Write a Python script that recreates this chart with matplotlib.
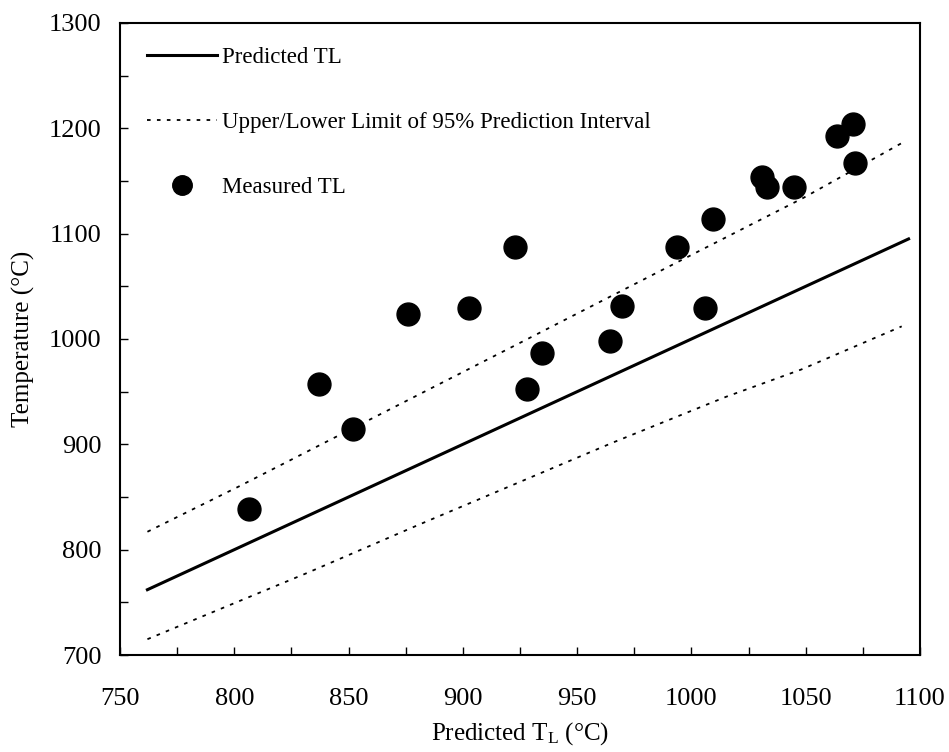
import matplotlib
matplotlib.use("Agg")
import matplotlib.pyplot as plt
import numpy as np

plt.rcParams['font.family'] = ['Liberation Serif', 'DejaVu Serif']
plt.rcParams['mathtext.fontset'] = 'custom'
plt.rcParams['mathtext.rm'] = 'Liberation Serif'
plt.rcParams['mathtext.it'] = 'Liberation Serif:italic'

# predicted TL line (y = x)
pred_x = [762, 1095]
pred_y = [762, 1095]

# 95% prediction interval limits
upper_x = [762, 802, 922, 1002, 1049, 1092]
upper_y = [817, 860, 993, 1082, 1134, 1186]
lower_x = [762, 832, 880, 966, 1015, 1048, 1092]
lower_y = [715, 778, 823, 902, 945, 971, 1012]

# measured TL vs predicted
meas_x = [806.6, 837.2, 851.8, 876.0, 902.8, 922.8, 927.9, 934.5, 964.4, 969.5,
          993.6, 1005.9, 1009.6, 1030.7, 1033.2, 1044.9, 1063.6, 1070.8, 1071.6]
meas_y = [838.3, 957.0, 914.3, 1023.5, 1029.7, 1087.1, 952.3, 987.0, 998.4, 1031.3,
          1087.6, 1029.7, 1113.9, 1154.0, 1144.6, 1144.0, 1193.0, 1204.1, 1166.8]

fig = plt.figure(figsize=(9.49, 7.52), dpi=100)
ax = fig.add_axes([120/949, 97/752, 800/949, 632/752])

ax.plot(pred_x, pred_y, color='black', lw=2.2, label='Predicted TL')
ax.plot(upper_x, upper_y, color='black', lw=1.3, linestyle=(0, (2, 3.5)),
        label='Upper/Lower Limit of 95% Prediction Interval')
ax.plot(lower_x, lower_y, color='black', lw=1.3, linestyle=(0, (2, 3.5)))
ax.plot(meas_x, meas_y, 'o', color='black', markersize=16.5, label='Measured TL')

ax.set_xlim(750, 1100)
ax.set_ylim(700, 1300)
ax.set_xticks(np.arange(750, 1101, 50))
ax.set_xticks(np.arange(775, 1100, 50), minor=True)
ax.set_yticks(np.arange(700, 1301, 100))
ax.set_yticks(np.arange(750, 1300, 100), minor=True)
ax.tick_params(which='both', direction='in', length=6, width=1, labelsize=19,
               top=False, right=False)
ax.tick_params(axis='x', pad=24)
ax.tick_params(axis='y', pad=13.5)
for s in ax.spines.values():
    s.set_linewidth(1.5)

ax.set_xlabel(r'Predicted T$_{\mathrm{L}}$ (°C)', fontsize=18, labelpad=7)
ax.set_ylabel('Temperature (°C)', fontsize=18, labelpad=9.5)

ax.legend(loc='upper left', bbox_to_anchor=(0, 1 + 3/632), frameon=False,
          fontsize=16.5, handlelength=3.06, handletextpad=0.22,
          labelspacing=1.92, borderaxespad=0.4, borderpad=0.78,
          markerscale=0.85)

fig.savefig('out.png', dpi=100)
